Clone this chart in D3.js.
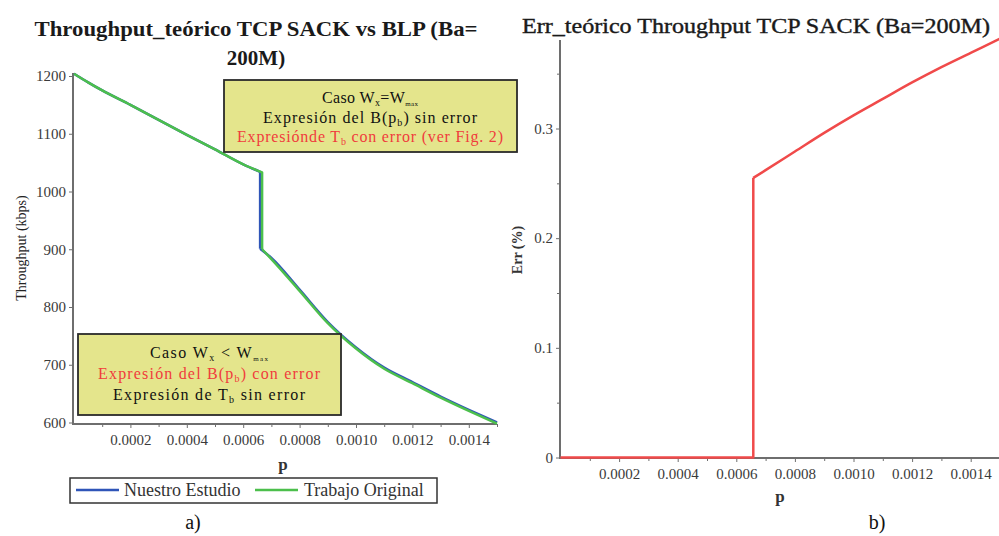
<!DOCTYPE html>
<html>
<meta charset="utf-8">
<head>
    <script src="https://d3js.org/d3.v7.min.js"></script>
    <style>
        body { margin: 0; background: #fff; }
        .axis path, .axis line { stroke: #6e6e6e; }
    </style>
</head>
<body>
    <script>
        var width = 999,
            height = 536,
            serif = "Liberation Serif, DejaVu Serif, serif";

        // --- data ---
        var pGreen = [0, 0.00005, 0.0001, 0.0002, 0.0003, 0.0004, 0.0005, 0.0006, 0.000667,
                      0.000667, 0.0007, 0.0008, 0.0009, 0.0010, 0.0011, 0.0012, 0.0013, 0.0014, 0.0015];
        var thrGreen = [1204, 1189, 1175, 1150, 1124, 1098, 1073, 1047, 1033,
                        900, 883, 828, 772, 728, 693, 668, 643, 620, 598];
        var pBlue = [0, 0.00005, 0.0001, 0.0002, 0.0003, 0.0004, 0.0005, 0.0006, 0.00066,
                     0.00066, 0.0007, 0.0008, 0.0009, 0.0010, 0.0011, 0.0012, 0.0013, 0.0014, 0.0015];
        var thrBlue = [1204, 1189, 1175, 1150, 1124, 1098, 1073, 1047, 1034,
                       901, 885, 830, 774, 730, 695, 670, 645, 622, 600];
        var pErr = [0, 0.0003, 0.000658, 0.000658, 0.0007, 0.0008, 0.0009, 0.0010, 0.0011, 0.0012, 0.0013, 0.0014, 0.0015];
        var errVal = [0, 0, 0, 0.255, 0.262, 0.279, 0.296, 0.312, 0.327, 0.342, 0.356, 0.369, 0.382];

        var xTicks = [0.0002, 0.0004, 0.0006, 0.0008, 0.0010, 0.0012, 0.0014];
        var xMinor = [0.0001, 0.0003, 0.0005, 0.0007, 0.0009, 0.0011, 0.0013, 0.0015];
        var yTicksA = [600, 700, 800, 900, 1000, 1100, 1200];
        var yTicksB = [0, 0.1, 0.2, 0.3];
        var yMinorB = [0.05, 0.15, 0.25, 0.35];
        var legendNames = ["Nuestro Estudio", "Trabajo Original"];
        var colors = { blue: "#2f55b8", green: "#4cbf4c", red: "#f04a4a" };

        var svg = d3.select("body").append("svg")
            .attr("width", width)
            .attr("height", height);

        function styleTicks(g) {
            g.attr("font-family", serif).attr("font-size", 15);
            g.selectAll("text").attr("fill", "#3a3a3a");
        }

        // draws a series as smooth pieces, split where p repeats (the jump)
        function drawSeries(xs, ys, xScale, yScale, color) {
            var pts = xs.map((p, i) => [p, ys[i]]);
            var smooth = d3.line().x(d => xScale(d[0])).y(d => yScale(d[1])).curve(d3.curveMonotoneX);
            var start = 0;
            for (var i = 1; i <= pts.length; i++) {
                if (i === pts.length || pts[i][0] === pts[i - 1][0]) {
                    var piece = pts.slice(start, i);
                    if (i < pts.length) piece = piece.concat([pts[i]]);
                    var d = piece.length > 1 && piece[piece.length - 1][0] === piece[piece.length - 2][0]
                        ? smooth(piece.slice(0, -1)) + "L" + xScale(piece[piece.length - 1][0]) + "," + yScale(piece[piece.length - 1][1])
                        : smooth(piece);
                    svg.append("path").attr("d", d).attr("fill", "none")
                        .attr("stroke", color).attr("stroke-width", 2.5).attr("stroke-linejoin", "round");
                    start = i;
                }
            }
        }

        // ---------- chart a) ----------
        var xa = d3.scaleLinear().domain([0, 0.0015]).range([74, 497]);
        var ya = d3.scaleLinear().domain([600, 1200]).range([422.5, 76]);

        svg.append("g").attr("class", "axis")
            .attr("transform", "translate(0,424)")
            .call(d3.axisBottom(xa).tickValues(xTicks).tickFormat(d3.format(".4f")).tickSize(4).tickPadding(6))
            .call(styleTicks)
            .call(g => g.select(".domain").attr("d", "M73,0H497").attr("stroke-width", 2));
        svg.append("g").attr("class", "axis")
            .attr("transform", "translate(0,424)")
            .call(d3.axisBottom(xa).tickValues(xMinor).tickFormat("").tickSize(3))
            .call(g => g.select(".domain").remove());

        svg.append("g").attr("class", "axis")
            .attr("transform", "translate(73,0)")
            .call(d3.axisLeft(ya).tickValues(yTicksA).tickFormat(d3.format("d")).tickSize(4).tickPadding(3))
            .call(styleTicks)
            .call(g => g.select(".domain").attr("d", "M0,73V425").attr("stroke-width", 2));

        drawSeries(pBlue, thrBlue, xa, ya, colors.blue);
        drawSeries(pGreen, thrGreen, xa, ya, colors.green);

        // titles and labels
        svg.append("text").attr("x", 256).attr("y", 36).attr("text-anchor", "middle")
            .attr("font-family", serif).attr("font-size", 21).attr("font-weight", "bold").attr("fill", "#1a1a1a")
            .attr("textLength", 443).attr("lengthAdjust", "spacingAndGlyphs")
            .text("Throughput_teórico TCP SACK vs BLP (Ba=");
        svg.append("text").attr("x", 256).attr("y", 65).attr("text-anchor", "middle")
            .attr("font-family", serif).attr("font-size", 21).attr("font-weight", "bold").attr("fill", "#1a1a1a")
            .text("200M)");
        svg.append("text").attr("transform", "translate(26,248) rotate(-90)")
            .attr("text-anchor", "middle").attr("font-family", serif).attr("font-size", 14).attr("fill", "#222")
            .text("Throughput (kbps)");
        svg.append("text").attr("x", 283).attr("y", 470).attr("text-anchor", "middle")
            .attr("font-family", serif).attr("font-size", 17).attr("font-weight", "bold").attr("fill", "#333").text("p");

        // legend
        var leg = svg.append("g");
        leg.append("rect").attr("x", 70).attr("y", 478).attr("width", 367).attr("height", 25)
            .attr("fill", "#fff").attr("stroke", "#333").attr("stroke-width", 1.5);
        [[76, 124, colors.blue], [255, 304, colors.green]].forEach(function (d, i) {
            leg.append("line").attr("x1", d[0]).attr("x2", d[0] + 43).attr("y1", 490).attr("y2", 490)
                .attr("stroke", d[2]).attr("stroke-width", 2.5);
            leg.append("text").attr("x", d[1]).attr("y", 496).attr("font-family", serif)
                .attr("font-size", 18).attr("fill", "#333")
                .text(legendNames[i]);
        });

        svg.append("text").attr("x", 193).attr("y", 529).attr("text-anchor", "middle")
            .attr("font-family", serif).attr("font-size", 20).attr("fill", "#111").text("a)");

        // annotation boxes
        function richLine(sel, x, y, parts, color, len) {
            var t = sel.append("text").attr("x", x).attr("y", y).attr("text-anchor", "middle")
                .attr("font-family", serif).attr("font-size", 16).attr("fill", color)
                .attr("textLength", len).attr("lengthAdjust", "spacing");
            parts.forEach(function (p) {
                var s = t.append("tspan").text(p.t);
                if (p.sub) s.attr("font-size", p.small ? 7 : 10).attr("baseline-shift", "-3");
            });
        }

        var b1 = svg.append("g");
        b1.append("rect").attr("x", 224).attr("y", 80).attr("width", 293).attr("height", 72)
            .attr("fill", "#e4e58c").attr("stroke", "#2a2a2a").attr("stroke-width", 1.8);
        richLine(b1, 370, 103, [{t: "Caso W"}, {t: "x", sub: true}, {t: "=W"}, {t: "max", sub: true, small: true}], "#111", 96);
        richLine(b1, 370, 123, [{t: "Expresión del B(p"}, {t: "b", sub: true}, {t: ") sin error"}], "#111", 214);
        richLine(b1, 370, 142, [{t: "Expresiónde T"}, {t: "b", sub: true}, {t: " con error (ver Fig. 2)"}], "#f03c3c", 266);

        var b2 = svg.append("g");
        b2.append("rect").attr("x", 78).attr("y", 334).attr("width", 263).attr("height", 81)
            .attr("fill", "#e4e58c").attr("stroke", "#2a2a2a").attr("stroke-width", 1.8);
        richLine(b2, 209, 358, [{t: "Caso W"}, {t: "x", sub: true}, {t: " < W"}, {t: "max", sub: true, small: true}], "#111", 118);
        richLine(b2, 209, 379, [{t: "Expresión del B(p"}, {t: "b", sub: true}, {t: ") con error"}], "#f03c3c", 222);
        richLine(b2, 209, 400, [{t: "Expresión de T"}, {t: "b", sub: true}, {t: " sin error"}], "#111", 192);

        // ---------- chart b) ----------
        var xb = d3.scaleLinear().domain([0, 0.0015]).range([560.5, 1000]);
        var yb = d3.scaleLinear().domain([0, 0.3]).range([457.5, 128.5]);

        svg.append("g").attr("class", "axis")
            .attr("transform", "translate(0,458)")
            .call(d3.axisBottom(xb).tickValues(xTicks).tickFormat(d3.format(".4f")).tickSize(4).tickPadding(6))
            .call(styleTicks)
            .call(g => g.select(".domain").attr("d", "M560,0H999").attr("stroke-width", 2));
        svg.append("g").attr("class", "axis")
            .attr("transform", "translate(0,458)")
            .call(d3.axisBottom(xb).tickValues(xMinor).tickFormat("").tickSize(3))
            .call(g => g.select(".domain").remove());

        svg.append("g").attr("class", "axis")
            .attr("transform", "translate(560,0)")
            .call(d3.axisLeft(yb).tickValues(yTicksB).tickFormat(d => d === 0 ? "0" : d.toFixed(1)).tickSize(4).tickPadding(3))
            .call(styleTicks)
            .call(g => g.select(".domain").attr("d", "M0,40V459").attr("stroke-width", 2));
        svg.append("g").attr("class", "axis")
            .attr("transform", "translate(560,0)")
            .call(d3.axisLeft(yb).tickValues(yMinorB).tickFormat("").tickSize(3))
            .call(g => g.select(".domain").remove());

        drawSeries(pErr, errVal, xb, yb, colors.red);

        svg.append("text").attr("x", 756).attr("y", 33).attr("text-anchor", "middle")
            .attr("font-family", serif).attr("font-size", 21).attr("fill", "#1a1a1a")
            .attr("stroke", "#1a1a1a").attr("stroke-width", 0.4)
            .attr("textLength", 468).attr("lengthAdjust", "spacingAndGlyphs")
            .text("Err_teórico Throughput TCP SACK (Ba=200M)");
        svg.append("text").attr("transform", "translate(522,250) rotate(-90)")
            .attr("text-anchor", "middle").attr("font-family", serif).attr("font-size", 14)
            .attr("font-weight", "bold").attr("fill", "#333")
            .text("Err (%)");
        svg.append("text").attr("x", 780).attr("y", 502).attr("text-anchor", "middle")
            .attr("font-family", serif).attr("font-size", 17).attr("font-weight", "bold").attr("fill", "#333").text("p");
        svg.append("text").attr("x", 877).attr("y", 529).attr("text-anchor", "middle")
            .attr("font-family", serif).attr("font-size", 20).attr("fill", "#111").text("b)");
    </script>
</body>
</html>
